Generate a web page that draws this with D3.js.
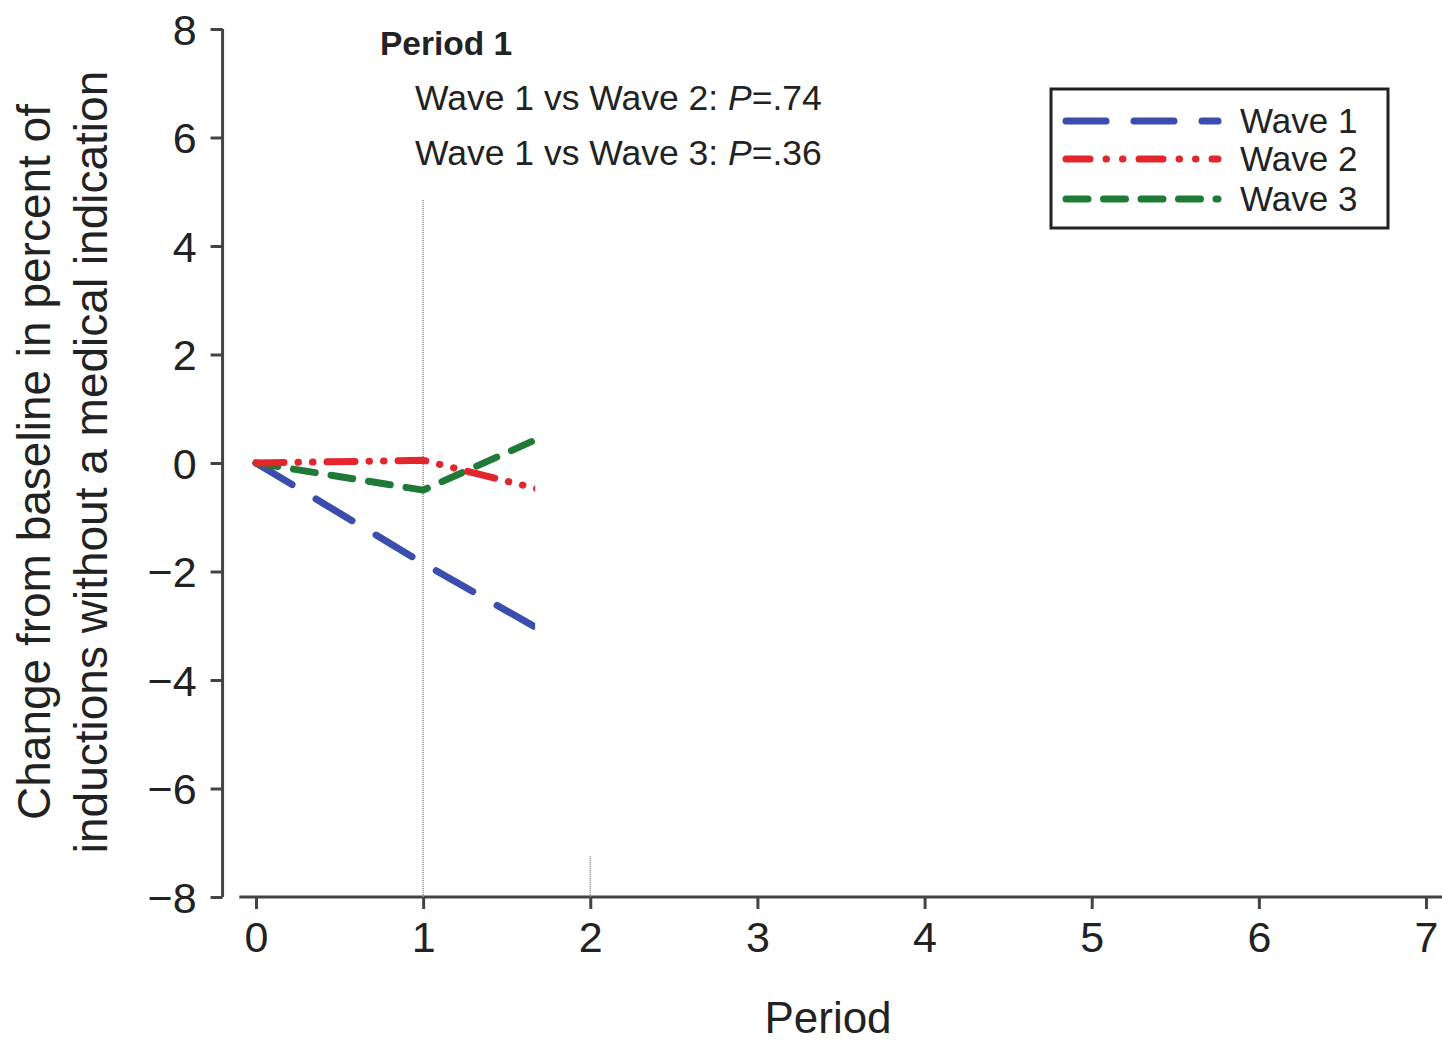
<!DOCTYPE html>
<html><head><meta charset="utf-8">
<script src="https://cdn.jsdelivr.net/npm/d3@7"></script>
<style>
body{margin:0;background:#fff;}
text{font-family:"Liberation Sans",Arial,sans-serif;fill:#222;}
</style></head>
<body><svg id="c" width="1442" height="1041"></svg>
<script>
const periods = [0, 1, 2];
const wave1 = [0, -1.85, -3.6];
const wave2 = [0, 0.05, -0.72];
const wave3 = [0, -0.5, 0.88];
const seriesNames = ["Wave 1", "Wave 2", "Wave 3"];
const xTicks = [0,1,2,3,4,5,6,7];
const yTicks = [8,6,4,2,0,-2,-4,-6,-8];
const annoTitle = "Period 1";
const annoLines = [["Wave 1 vs Wave 2: ", "P", "=.74"], ["Wave 1 vs Wave 3: ", "P", "=.36"]];
const visibleMax = 1.67;

const svg = d3.select("#c");
const x = d3.scaleLinear().domain([0,7]).range([256,1426]);
const y = d3.scaleLinear().domain([-8,8]).range([897,29]);

const styles = [
  {color:"#3b4eae", dash:"42 28"},
  {color:"#e3262b", dash:"28 14 0.5 14 0.5 14"},
  {color:"#1e7a36", dash:"22 16"}
];
const legendDash = [
  "40 28", "24 16 0.5 16 0.5 16", "22 15.5"
];

// axes
const axisColor = "#444";
const yAx = svg.append("g").attr("transform",`translate(${x(-0.2)},0)`)
  .call(d3.axisLeft(y).tickValues(yTicks).tickSize(12).tickPadding(14)
    .tickFormat(d => d < 0 ? "\u2212" + Math.abs(d) : d));
yAx.select(".domain").attr("d", `M0,${y(8)}V${y(-8)}`);
yAx.selectAll("path,line").attr("stroke",axisColor).attr("stroke-width",3);
yAx.selectAll("text").style("font-size","43px").attr("fill","#222").attr("dy","0.36em");

const xAx = svg.append("g").attr("transform",`translate(0,${y(-8)})`)
  .call(d3.axisBottom(x).tickValues(xTicks).tickSize(12).tickPadding(12).tickFormat(d3.format("d")));
xAx.select(".domain").attr("d", `M${x(-0.1)},0H1442`);
xAx.selectAll("path,line").attr("stroke",axisColor).attr("stroke-width",3);
xAx.selectAll("text").style("font-size","43px").attr("fill","#222");

// reference lines
svg.append("line").attr("x1",x(1)).attr("x2",x(1)).attr("y1",y(4.85)).attr("y2",y(-8))
  .attr("stroke","#888").attr("stroke-width",1.5).attr("stroke-dasharray","1 1");
svg.append("line").attr("x1",x(2)).attr("x2",x(2)).attr("y1",y(-7.25)).attr("y2",y(-8))
  .attr("stroke","#888").attr("stroke-width",1.5).attr("stroke-dasharray","1 1");

// axis titles
svg.append("text").attr("x",828).attr("y",1033).attr("text-anchor","middle")
  .style("font-size","44px").text("Period");
const yt = svg.append("text").attr("transform","translate(0,462) rotate(-90)")
  .attr("text-anchor","middle").style("font-size","46px");
yt.append("tspan").attr("x",0).attr("y",50).text("Change from baseline in percent of");
yt.append("tspan").attr("x",0).attr("y",107).text("inductions without a medical indication");

// clip
svg.append("clipPath").attr("id","clip").append("rect")
  .attr("x",0).attr("y",0).attr("width",x(visibleMax)).attr("height",1041);

const line = d3.line().x((d,i)=>x(periods[i])).y(d=>y(d));
const data = [wave1, wave2, wave3];
[0,2,1].forEach(i=>{
  svg.append("path").datum(data[i]).attr("d",line).attr("clip-path","url(#clip)")
    .attr("fill","none").attr("stroke",styles[i].color).attr("stroke-width",7)
    .attr("stroke-linecap","round").attr("stroke-linejoin","round")
    .attr("stroke-dasharray",styles[i].dash);
});

// annotation
svg.append("text").attr("x",380).attr("y",55).style("font-size","33.5px")
  .style("font-weight","bold").text(annoTitle);
annoLines.forEach((l,i)=>{
  const t = svg.append("text").attr("x",415).attr("y",110+55*i).style("font-size","35.5px");
  t.append("tspan").text(l[0]);
  t.append("tspan").style("font-style","italic").text(l[1]);
  t.append("tspan").text(l[2]);
});

// legend
const lg = svg.append("g");
lg.append("rect").attr("x",1051).attr("y",89).attr("width",337).attr("height",139)
  .attr("fill","#fff").attr("stroke","#222").attr("stroke-width",3);
const ly = [121, 159, 199];
seriesNames.forEach((n,i)=>{
  lg.append("line").attr("x1",1066).attr("x2",1218).attr("y1",ly[i]).attr("y2",ly[i])
    .attr("stroke",styles[i].color).attr("stroke-width",7).attr("stroke-linecap","round")
    .attr("stroke-dasharray",legendDash[i]);
  lg.append("text").attr("x",1240).attr("y",ly[i]+12).style("font-size","35px").text(n);
});
</script></body></html>
